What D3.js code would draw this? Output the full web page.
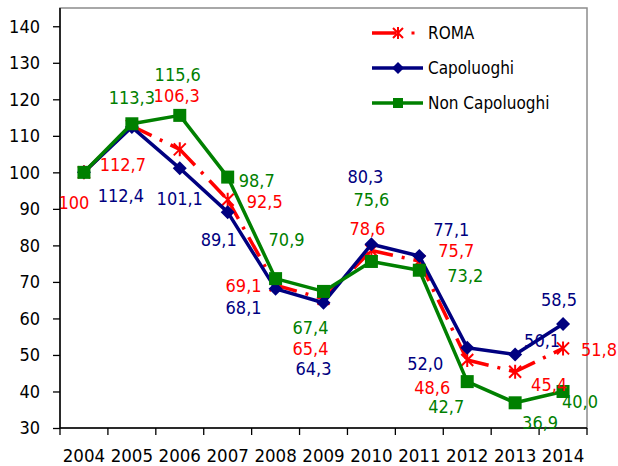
<!DOCTYPE html>
<html><head><meta charset="utf-8">
<script src="https://cdn.jsdelivr.net/npm/d3@7"></script>
<style>body{margin:0;background:#fff}svg{display:block}</style>
</head><body>
<svg id="c" width="618" height="466"></svg>
<script>
const years = ["2004","2005","2006","2007","2008","2009","2010","2011","2012","2013","2014"];
const roma = [100,112.7,106.3,92.5,69.1,65.4,78.6,75.7,48.6,45.4,51.8];
const capoluoghi = [100,112.4,101.1,89.1,68.1,64.3,80.3,77.1,52.0,50.1,58.5];
const nonCapoluoghi = [100,113.3,115.6,98.7,70.9,67.4,75.6,73.2,42.7,36.9,40.0];
const yTicks = [30,40,50,60,70,80,90,100,110,120,130,140];
const seriesNames = ["ROMA","Capoluoghi","Non Capoluoghi"];
const labelTexts = {
  roma: ["100","112,7","106,3","92,5","69,1","65,4","78,6","75,7","48,6","45,4","51,8"],
  cap: [null,"112,4","101,1","89,1","68,1","64,3","80,3","77,1","52,0","50,1","58,5"],
  non: [null,"113,3","115,6","98,7","70,9","67,4","75,6","73,2","42,7","36,9","40,0"]
};
// label placement offsets (layout only)
const labelOffsets = {
  roma: [[-10,30],[-9,39],[-3,-54],[37,2],[-32,0],[-13,50],[-4,-22],[37,-11],[-35,27],[34,13],[36,1]],
  cap: [null,[-11,68],[0,30],[-9,27],[-32,19],[-10,66],[-6,-68],[32,-26],[-42,16],[27,-14],[-4,-24]],
  non: [null,[0,-26],[-2,-41],[29,3],[11,-39],[-13,36],[0,-62],[46,5],[-21,25],[25,20],[17,10]]
};

const FONT = "'DejaVu Sans Condensed', 'DejaVu Sans'";
const svg = d3.select("#c");
const L = 60, R = 587, T = 8, B = 428;
const x = d3.scaleBand().domain(years).range([L, R]).padding(0);
const y = d3.scaleLinear().domain([30,145]).range([B, T]);
const cx = d => x(d) + x.bandwidth()/2;

// plot border
svg.append("rect").attr("x", L).attr("y", T).attr("width", R-L).attr("height", B-T)
  .attr("fill","none").attr("stroke","#8c8c8c").attr("stroke-width",1.5);

// y axis
const ya = svg.append("g").attr("transform", `translate(${L},0)`)
  .call(d3.axisLeft(y).tickValues(yTicks).tickSize(7).tickPadding(13).tickFormat(d3.format("d")));
ya.select(".domain").attr("stroke","#000").attr("stroke-width",1.5).attr("d", `M-0,${T}V${B}`);
ya.selectAll(".tick line").attr("stroke","#000").attr("stroke-width",1.3);
ya.selectAll("text").attr("font-family",FONT).attr("font-stretch","condensed").attr("font-size",18).attr("fill","#000");

// x axis
const xa = svg.append("g").attr("transform", `translate(0,${B})`)
  .call(d3.axisBottom(x).tickSize(0).tickPadding(21));
xa.select(".domain").attr("stroke","#000").attr("stroke-width",1.5).attr("d", `M${L},0H${R}`);
xa.selectAll("text").attr("font-family",FONT).attr("font-stretch","condensed").attr("font-size",18.5).attr("fill","#000");
const bounds = years.map(d => x(d)).concat([R]);
xa.selectAll(".bt").data(bounds).enter().append("line")
  .attr("x1", d => d).attr("x2", d => d).attr("y1", 0).attr("y2", 7)
  .attr("stroke","#000").attr("stroke-width",1.3);

const RED = "#ff0000", BLUE = "#000080", GREEN = "#008000";

function asterisk(g, px, py, s) {
  g.append("path").attr("d", `M${px-s},${py-s}L${px+s},${py+s}M${px-s},${py+s}L${px+s},${py-s}M${px},${py-s-1}L${px},${py+s+1}`)
    .attr("stroke", RED).attr("stroke-width", 2).attr("fill","none");
}

// ROMA (dash-dot, restarting per segment)
const gR = svg.append("g");
for (let i = 0; i < years.length-1; i++) {
  gR.append("line")
    .attr("x1", cx(years[i])).attr("y1", y(roma[i]))
    .attr("x2", cx(years[i+1])).attr("y2", y(roma[i+1]))
    .attr("stroke", RED).attr("stroke-width", 3.5).attr("stroke-dasharray","22,9,3,9");
}
roma.forEach((v,i) => asterisk(gR, cx(years[i]), y(v), 6));

// Capoluoghi
const line = d3.line().x((d,i) => cx(years[i])).y(d => y(d));
svg.append("path").datum(capoluoghi).attr("d", line).attr("fill","none")
  .attr("stroke", BLUE).attr("stroke-width", 3.5).attr("stroke-linejoin","round");
svg.append("g").selectAll("path").data(capoluoghi).enter().append("path")
  .attr("d", (d,i) => { const px = cx(years[i]), py = y(d), s = 7; return `M${px},${py-s}L${px+s},${py}L${px},${py+s}L${px-s},${py}Z`; })
  .attr("fill", BLUE);

// Non Capoluoghi
svg.append("path").datum(nonCapoluoghi).attr("d", line).attr("fill","none")
  .attr("stroke", GREEN).attr("stroke-width", 3.5).attr("stroke-linejoin","round");
svg.append("g").selectAll("rect").data(nonCapoluoghi).enter().append("rect")
  .attr("x", (d,i) => cx(years[i]) - 6.5).attr("y", d => y(d) - 6.5)
  .attr("width", 13).attr("height", 13).attr("fill", GREEN);

// data labels
function labels(vals, key, color) {
  svg.append("g").selectAll("text").data(vals.map((v,i)=>({v,i})).filter(d => labelTexts[key][d.i]))
    .enter().append("text")
    .attr("x", d => cx(years[d.i]) + labelOffsets[key][d.i][0])
    .attr("y", d => y(d.v) + labelOffsets[key][d.i][1])
    .attr("text-anchor","middle").attr("dominant-baseline","central")
    .attr("font-family",FONT).attr("font-stretch","condensed").attr("font-size",18).attr("fill", color)
    .text(d => labelTexts[key][d.i]);
}
labels(roma, "roma", RED);
labels(capoluoghi, "cap", BLUE);
labels(nonCapoluoghi, "non", GREEN);

// legend
const lg = svg.append("g");
const legY = [33, 68, 103];
// ROMA
lg.append("line").attr("x1",372).attr("x2",396).attr("y1",legY[0]).attr("y2",legY[0]).attr("stroke",RED).attr("stroke-width",3.5);
asterisk(lg, 398, legY[0], 5);
lg.append("rect").attr("x",411.5).attr("y",legY[0]-1.5).attr("width",3).attr("height",3).attr("fill",RED);
// Capoluoghi
lg.append("line").attr("x1",372).attr("x2",423).attr("y1",legY[1]).attr("y2",legY[1]).attr("stroke",BLUE).attr("stroke-width",3.5);
lg.append("path").attr("d",`M398,${legY[1]-6}L404,${legY[1]}L398,${legY[1]+6}L392,${legY[1]}Z`).attr("fill",BLUE);
// Non
lg.append("line").attr("x1",372).attr("x2",423).attr("y1",legY[2]).attr("y2",legY[2]).attr("stroke",GREEN).attr("stroke-width",3.5);
lg.append("rect").attr("x",393).attr("y",legY[2]-5).attr("width",10).attr("height",10).attr("fill",GREEN);
lg.selectAll("text").data(seriesNames).enter().append("text")
  .attr("x", 428).attr("y", (d,i) => legY[i]).attr("dominant-baseline","central")
  .attr("font-family",FONT).attr("font-stretch","condensed")
  .attr("font-size",17).attr("fill","#000")
  .text(d => d);
</script>
</body></html>
